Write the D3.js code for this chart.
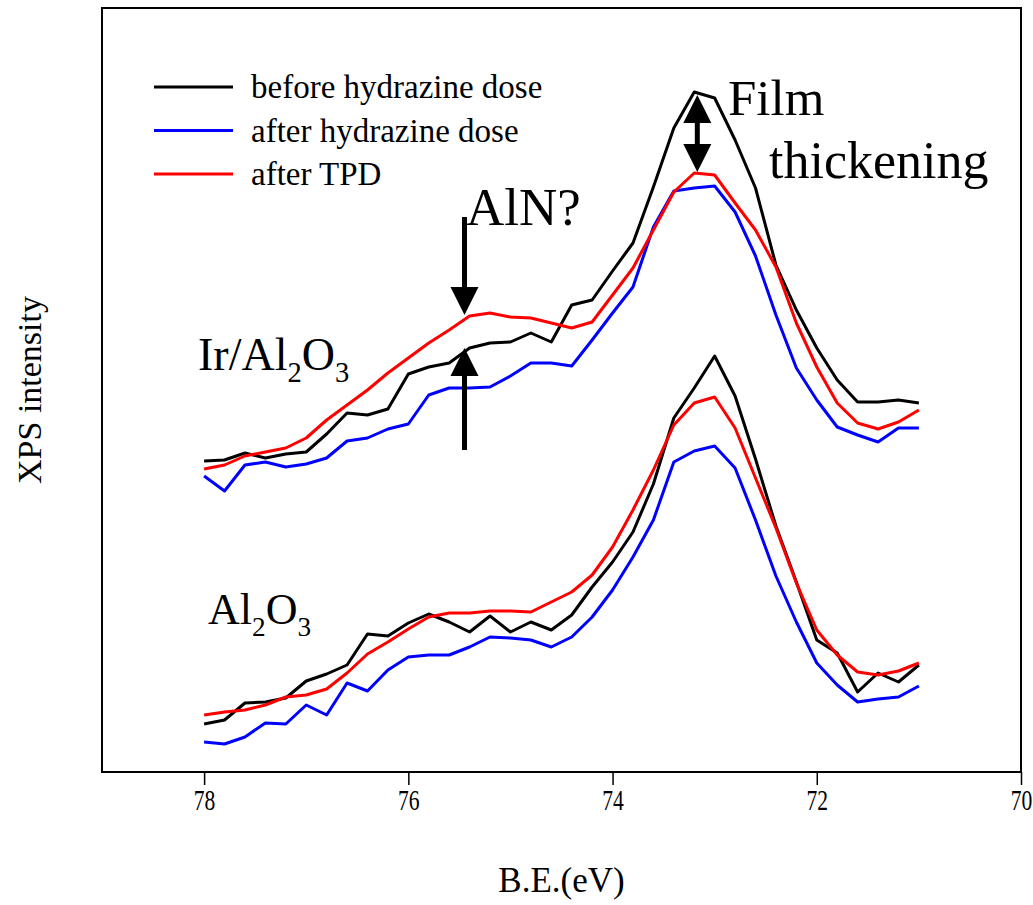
<!DOCTYPE html>
<html>
<head>
<meta charset="utf-8">
<script src="https://cdn.jsdelivr.net/npm/d3@7"></script>
<style>
  body { margin: 0; background: #fff; }
  text { font-family: "Liberation Serif", "Times New Roman", serif; fill: #000; }
</style>
</head>
<body>
<div id="chart"></div>
<script>
// binding energies, 78.0 -> 71.0 eV in 0.2 eV steps
var energy = d3.range(36).map(function(i) { return +(78 - i * 0.2).toFixed(1); });

// Ir/Al2O3 spectra (arbitrary intensity units)
var irBefore = [311,312,319,314,318,320,338,359,357,363,398,405,409,424,429,430,439,430,467,472,
                501,529,585,644,680,674,632,584,507,462,424,392,370,370,372,369];
var irAfter  = [296,281,307,310,305,308,314,331,334,343,348,377,384,384,385,396,409,409,406,432,
                459,485,545,581,584,586,560,516,457,404,372,345,337,330,344,344];
var irTPD    = [303,307,316,320,324,334,352,367,382,399,414,429,442,456,459,455,454,449,444,450,
                477,504,542,580,599,597,569,542,505,449,405,369,349,343,350,362];

// Al2O3 spectra
var alBefore = [48,52,69,70,74,91,98,107,138,136,149,158,150,140,156,140,150,142,157,185,
                210,240,288,354,384,416,376,313,246,190,132,119,80,99,90,107];
var alAfter  = [30,28,35,49,48,67,57,89,81,102,115,117,117,125,135,134,132,125,135,155,
                182,215,252,310,321,326,304,252,196,150,109,87,70,73,75,86];
var alTPD    = [57,60,62,67,75,77,83,99,118,130,143,155,159,159,161,161,160,170,180,197,
                225,262,302,347,369,375,344,294,244,189,142,117,100,97,101,109];

var legendLabels = ["before hydrazine dose", "after hydrazine dose", "after TPD"];
var colors = ["#000000", "#0000ff", "#ff0000"];
var xTicks = [78, 76, 74, 72, 70];

var margin = {top: 8, right: 12, bottom: 133, left: 102},
    width = 1033 - margin.left - margin.right,
    height = 905 - margin.top - margin.bottom;

var svg = d3.select("#chart")
  .append("svg")
    .attr("width", 1033)
    .attr("height", 905)
  .append("g")
    .attr("transform", "translate(" + margin.left + "," + margin.top + ")");

var x = d3.scaleLinear().domain([79, 70]).range([0, width]);
var y = d3.scaleLinear().domain([0, 764]).range([height, 0]);

// frame
svg.append("rect")
  .attr("width", width)
  .attr("height", height)
  .attr("fill", "none")
  .attr("stroke", "#000")
  .attr("stroke-width", 2);

// x axis
var xAxis = svg.append("g")
  .attr("transform", "translate(0," + height + ")")
  .call(d3.axisBottom(x).tickValues(xTicks).tickSize(13).tickPadding(4).tickFormat(d3.format("d")));
xAxis.attr("font-family", null).attr("font-size", null);
xAxis.select(".domain").remove();
xAxis.selectAll("line").attr("stroke-width", 1.5);
// narrow digits as in the original figure
xAxis.selectAll("text")
  .style("font-size", "30px")
  .attr("transform", "scale(0.72,1)");

svg.append("text")
  .attr("x", width / 2)
  .attr("y", height + 120)
  .attr("text-anchor", "middle")
  .attr("font-size", "35px")
  .text("B.E.(eV)");

svg.append("text")
  .attr("transform", "rotate(-90)")
  .attr("x", -(390 - margin.top))
  .attr("y", -margin.left + 41)
  .attr("text-anchor", "middle")
  .attr("font-size", "34px")
  .text("XPS intensity");

// spectra
var line = d3.line()
  .x(function(d) { return x(d[0]); })
  .y(function(d) { return y(d[1]); });

var series = [irBefore, irAfter, irTPD, alBefore, alAfter, alTPD];
series.forEach(function(s, i) {
  svg.append("path")
    .datum(energy.map(function(e, j) { return [e, s[j]]; }))
    .attr("d", line)
    .attr("fill", "none")
    .attr("stroke", colors[i % 3])
    .attr("stroke-width", 3)
    .attr("stroke-linejoin", "round");
});

// legend
legendLabels.forEach(function(l, i) {
  var ly = 79 + i * 43.5;
  svg.append("line")
    .attr("x1", 52).attr("x2", 131)
    .attr("y1", ly).attr("y2", ly)
    .attr("stroke", colors[i])
    .attr("stroke-width", 3);
  svg.append("text")
    .attr("x", 149)
    .attr("y", ly + 11)
    .attr("font-size", "33px")
    .text(l);
});

// sample labels
function chem(tx, ty, size, parts) {
  var t = svg.append("text")
    .attr("x", tx).attr("y", ty)
    .attr("font-size", size + "px");
  parts.forEach(function(p) {
    t.append("tspan")
      .attr("font-size", (p[1] ? size * 0.62 : size) + "px")
      .attr("dy", p[1] ? 12 : (p[2] ? -12 : 0))
      .text(p[0]);
  });
}
chem(96, 362, 46, [["Ir/Al"], ["2", true], ["O", false, true], ["3", true]]);
chem(106, 616, 44, [["Al"], ["2", true], ["O", false, true], ["3", true]]);

// annotations
var arrowX = 75.45;
var head = 14, headLen = 28;

function arrowHead(px, py, dir) {
  svg.append("path")
    .attr("d", "M" + px + "," + py +
               "L" + (px - head) + "," + (py - dir * headLen) +
               "L" + (px + head) + "," + (py - dir * headLen) + "Z")
    .attr("fill", "#000");
}

// AlN? arrows
svg.append("line")
  .attr("x1", x(arrowX)).attr("x2", x(arrowX))
  .attr("y1", 217 - margin.top).attr("y2", y(457) - headLen + 2)
  .attr("stroke", "#000").attr("stroke-width", 5);
arrowHead(x(arrowX), y(457), 1);

svg.append("line")
  .attr("x1", x(arrowX)).attr("x2", x(arrowX))
  .attr("y1", 450 - margin.top).attr("y2", y(424) + headLen - 2)
  .attr("stroke", "#000").attr("stroke-width", 5);
arrowHead(x(arrowX), y(424), -1);

svg.append("text")
  .attr("x", 466 - margin.left)
  .attr("y", 225 - margin.top)
  .attr("font-size", "53px")
  .text("AlN?");

// film thickening double arrow
var fx = x(73.17);
svg.append("line")
  .attr("x1", fx).attr("x2", fx)
  .attr("y1", y(677) + headLen - 2).attr("y2", y(600) - headLen + 2)
  .attr("stroke", "#000").attr("stroke-width", 5);
arrowHead(fx, y(677), -1);
arrowHead(fx, y(600), 1);

svg.append("text")
  .attr("x", 728 - margin.left)
  .attr("y", 115 - margin.top)
  .attr("font-size", "51px")
  .text("Film");
svg.append("text")
  .attr("x", 769 - margin.left)
  .attr("y", 178 - margin.top)
  .attr("font-size", "52px")
  .text("thickening");
</script>
</body>
</html>
